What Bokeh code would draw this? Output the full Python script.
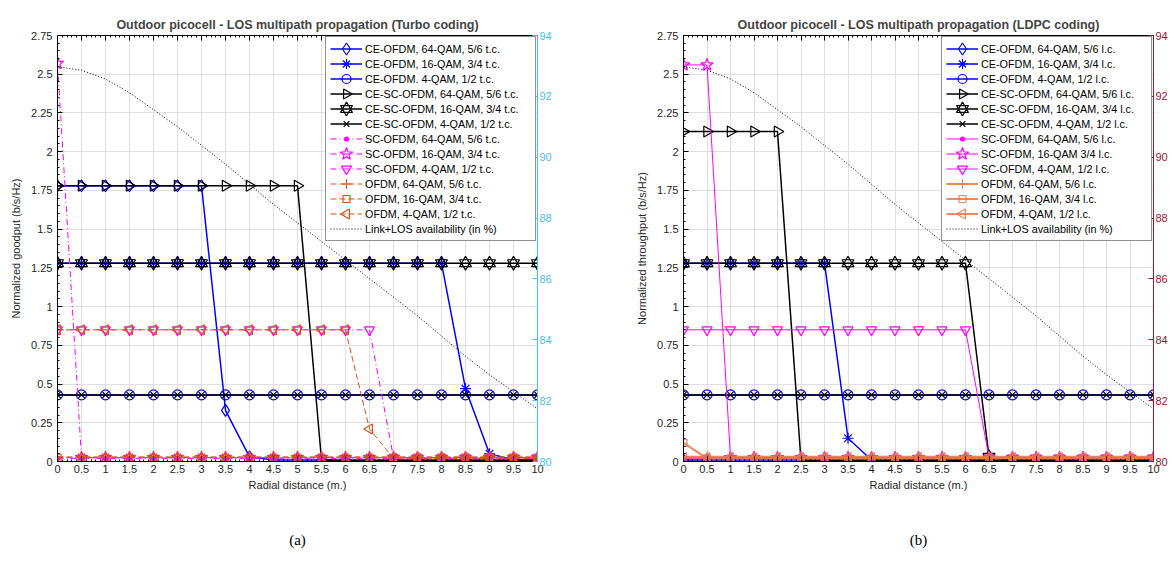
import math
from bokeh.plotting import figure
from bokeh.models import (Range1d, LinearAxis, FixedTicker, Legend, LegendItem,
                          NumeralTickFormatter, CustomJS)
from bokeh.layouts import row
from bokeh.embed import file_html
from bokeh.resources import INLINE

# ---------------- data ----------------
distance = [0, 0.5, 1, 1.5, 2, 2.5, 3, 3.5, 4, 4.5, 5, 5.5, 6, 6.5, 7, 7.5, 8, 8.5, 9, 9.5, 10]

x_tick_values = [0, 0.5, 1, 1.5, 2, 2.5, 3, 3.5, 4, 4.5, 5, 5.5, 6, 6.5, 7, 7.5, 8, 8.5, 9, 9.5, 10]
y_tick_values = [0, 0.25, 0.5, 0.75, 1, 1.25, 1.5, 1.75, 2, 2.25, 2.5, 2.75]
avail_tick_values = [80, 82, 84, 86, 88, 90, 92, 94]

# Link+LOS availability (%) - right axis
availability = [92.97, 92.86, 92.57, 92.12, 91.56, 91.00, 90.39, 89.77, 89.11, 88.45, 87.84,
                 87.23, 86.62, 86.01, 85.40, 84.79, 84.12, 83.46, 82.85, 82.29, 81.73]

# (a) Turbo coding - normalized goodput
turbo_ce_ofdm_64 = [1.78, 1.78, 1.78, 1.78, 1.78, 1.78, 1.78, 0.33, 0.03, 0.01, 0.01,
                    0.01, 0.01, 0.01, 0.01, 0.01, 0.01, 0.01, 0.01, 0.01, 0.01]
turbo_ce_ofdm_16 = [1.28, 1.28, 1.28, 1.28, 1.28, 1.28, 1.28, 1.28, 1.28, 1.28, 1.28,
                    1.28, 1.28, 1.28, 1.28, 1.28, 1.28, 0.47, 0.05, 0.01, 0.01]
turbo_ce_ofdm_4 = [0.43, 0.43, 0.43, 0.43, 0.43, 0.43, 0.43, 0.43, 0.43, 0.43, 0.43,
                   0.43, 0.43, 0.43, 0.43, 0.43, 0.43, 0.43, 0.43, 0.43, 0.43]
turbo_ce_sc_64 = [1.78, 1.78, 1.78, 1.78, 1.78, 1.78, 1.78, 1.78, 1.78, 1.78, 1.78,
                  0.01, 0.005, 0.005, 0.005, 0.005, 0.005, 0.005, 0.005, 0.005, 0.005]
turbo_ce_sc_16 = [1.28, 1.28, 1.28, 1.28, 1.28, 1.28, 1.28, 1.28, 1.28, 1.28, 1.28,
                  1.28, 1.28, 1.28, 1.28, 1.28, 1.28, 1.28, 1.28, 1.28, 1.28]
turbo_ce_sc_4 = [0.43, 0.43, 0.43, 0.43, 0.43, 0.43, 0.43, 0.43, 0.43, 0.43, 0.43,
                 0.43, 0.43, 0.43, 0.43, 0.43, 0.43, 0.43, 0.43, 0.43, 0.43]
turbo_sc_64 = [0.02, 0.02, 0.02, 0.02, 0.02, 0.02, 0.02, 0.02, 0.02, 0.02, 0.02,
               0.02, 0.02, 0.02, 0.02, 0.02, 0.02, 0.02, 0.02, 0.02, 0.02]
turbo_sc_16 = [2.57, 0.025, 0.025, 0.025, 0.025, 0.025, 0.025, 0.025, 0.025, 0.025, 0.025,
               0.025, 0.025, 0.025, 0.025, 0.025, 0.025, 0.025, 0.025, 0.025, 0.025]
turbo_sc_4 = [0.85, 0.85, 0.85, 0.85, 0.85, 0.85, 0.85, 0.85, 0.85, 0.85, 0.85,
              0.85, 0.85, 0.85, 0.025, 0.025, 0.025, 0.025, 0.025, 0.025, 0.025]
turbo_ofdm_64 = [0.03, 0.03, 0.03, 0.03, 0.03, 0.03, 0.03, 0.03, 0.03, 0.03, 0.03,
                 0.03, 0.03, 0.03, 0.03, 0.03, 0.03, 0.03, 0.03, 0.03, 0.03]
turbo_ofdm_16 = [0.025, 0.025, 0.025, 0.025, 0.025, 0.025, 0.025, 0.025, 0.025, 0.025, 0.025,
                 0.025, 0.025, 0.025, 0.025, 0.025, 0.025, 0.025, 0.025, 0.025, 0.025]
turbo_ofdm_4 = [0.85, 0.85, 0.85, 0.85, 0.85, 0.85, 0.85, 0.85, 0.85, 0.85, 0.85,
                0.85, 0.85, 0.21, 0.02, 0.02, 0.02, 0.02, 0.02, 0.02, 0.02]

# (b) LDPC coding - normalized throughput
ldpc_ce_ofdm_64 = [0.01, 0.01, 0.01, 0.01, 0.01, 0.01, 0.01, 0.01, 0.01, 0.01, 0.01,
                   0.01, 0.01, 0.01, 0.01, 0.01, 0.01, 0.01, 0.01, 0.01, 0.01]
ldpc_ce_ofdm_16 = [1.28, 1.28, 1.28, 1.28, 1.28, 1.28, 1.28, 0.15, 0.01, 0.01, 0.01,
                   0.01, 0.01, 0.01, 0.01, 0.01, 0.01, 0.01, 0.01, 0.01, 0.01]
ldpc_ce_ofdm_4 = [0.43, 0.43, 0.43, 0.43, 0.43, 0.43, 0.43, 0.43, 0.43, 0.43, 0.43,
                  0.43, 0.43, 0.43, 0.43, 0.43, 0.43, 0.43, 0.43, 0.43, 0.43]
ldpc_ce_sc_64 = [2.13, 2.13, 2.13, 2.13, 2.13, 0.005, 0.005, 0.005, 0.005, 0.005, 0.005,
                 0.005, 0.005, 0.005, 0.005, 0.005, 0.005, 0.005, 0.005, 0.005, 0.005]
ldpc_ce_sc_16 = [1.28, 1.28, 1.28, 1.28, 1.28, 1.28, 1.28, 1.28, 1.28, 1.28, 1.28,
                 1.28, 1.28, 0.03, 0.005, 0.005, 0.005, 0.005, 0.005, 0.005, 0.005]
ldpc_ce_sc_4 = [0.43, 0.43, 0.43, 0.43, 0.43, 0.43, 0.43, 0.43, 0.43, 0.43, 0.43,
                0.43, 0.43, 0.43, 0.43, 0.43, 0.43, 0.43, 0.43, 0.43, 0.43]
ldpc_sc_64 = [0.02, 0.02, 0.02, 0.02, 0.02, 0.02, 0.02, 0.02, 0.02, 0.02, 0.02,
              0.02, 0.02, 0.02, 0.02, 0.02, 0.02, 0.02, 0.02, 0.02, 0.02]
ldpc_sc_16 = [2.56, 2.56, 0.025, 0.025, 0.025, 0.025, 0.025, 0.025, 0.025, 0.025, 0.025,
              0.025, 0.025, 0.025, 0.025, 0.025, 0.025, 0.025, 0.025, 0.025, 0.025]
ldpc_sc_4 = [0.85, 0.85, 0.85, 0.85, 0.85, 0.85, 0.85, 0.85, 0.85, 0.85, 0.85,
             0.85, 0.85, 0.025, 0.025, 0.025, 0.025, 0.025, 0.025, 0.025, 0.025]
ldpc_ofdm_64 = [0.03, 0.03, 0.03, 0.03, 0.03, 0.03, 0.03, 0.03, 0.03, 0.03, 0.03,
                0.03, 0.03, 0.03, 0.03, 0.03, 0.03, 0.03, 0.03, 0.03, 0.03]
ldpc_ofdm_16 = [0.12, 0.02, 0.02, 0.02, 0.02, 0.02, 0.02, 0.02, 0.02, 0.02, 0.02,
                0.02, 0.02, 0.02, 0.02, 0.02, 0.02, 0.02, 0.02, 0.02, 0.02]
ldpc_ofdm_4 = [0.025, 0.025, 0.025, 0.025, 0.025, 0.025, 0.025, 0.025, 0.025, 0.025, 0.025,
               0.025, 0.025, 0.025, 0.025, 0.025, 0.025, 0.025, 0.025, 0.025, 0.025]

turbo_labels = ["CE-OFDM, 64-QAM, 5/6 t.c.", "CE-OFDM, 16-QAM, 3/4 t.c.", "CE-OFDM. 4-QAM, 1/2 t.c.",
                "CE-SC-OFDM, 64-QAM, 5/6 t.c.", "CE-SC-OFDM, 16-QAM, 3/4 t.c.", "CE-SC-OFDM, 4-QAM, 1/2 t.c.",
                "SC-OFDM, 64-QAM, 5/6 t.c.", "SC-OFDM, 16-QAM, 3/4 t.c.", "SC-OFDM, 4-QAM, 1/2 t.c.",
                "OFDM, 64-QAM, 5/6 t.c.", "OFDM, 16-QAM, 3/4 t.c.", "OFDM, 4-QAM, 1/2 t.c.",
                "Link+LOS availability (in %)"]
ldpc_labels = ["CE-OFDM, 64-QAM, 5/6 l.c.", "CE-OFDM, 16-QAM, 3/4 l.c.", "CE-OFDM, 4-QAM, 1/2 l.c.",
               "CE-SC-OFDM, 64-QAM, 5/6 l.c.", "CE-SC-OFDM, 16-QAM, 3/4 l.c.", "CE-SC-OFDM, 4-QAM, 1/2 l.c.",
               "SC-OFDM, 64-QAM, 5/6 l.c.", "SC-OFDM, 16-QAM 3/4 l.c.", "SC-OFDM, 4-QAM, 1/2 l.c.",
               "OFDM, 64-QAM, 5/6 l.c.", "OFDM, 16-QAM, 3/4 l.c.", "OFDM, 4-QAM, 1/2 l.c.",
               "Link+LOS availability (in %)"]

# ---------------- styling ----------------
FONT = "Liberation Sans"
BLUE, BLACK, MAGENTA = "#0000FF", "#000000", "#FF00FF"

# One custom marker painter (MATLAB-like shapes). In the legend Bokeh passes r = 3,
# there the radius args.lr is used instead so that legend markers are as big as the plot's.
MARKER_JS = """
export default (args, obj, {ctx, i, r, visuals}) => {
  const R = r < 3.2 ? args.lr : r
  const s = args.shape
  let closed = true
  ctx.beginPath()
  const tri = (p) => { ctx.moveTo(p[0], p[1]); ctx.lineTo(p[2], p[3]); ctx.lineTo(p[4], p[5]); ctx.closePath() }
  const h = R*Math.sqrt(3)
  const a = h/3
  if (s == "circle") {
    ctx.arc(0, 0, R, 0, 2*Math.PI, false)
  } else if (s == "dot") {
    ctx.arc(0, 0, args.lr, 0, 2*Math.PI, false)
  } else if (s == "diamond") {
    ctx.moveTo(0, -R); ctx.lineTo(R/1.5, 0); ctx.lineTo(0, R); ctx.lineTo(-R/1.5, 0); ctx.closePath()
  } else if (s == "square") {
    ctx.rect(-R, -R, 2*R, 2*R)
  } else if (s == "tri_down") {
    tri([0, h - a, R, -a, -R, -a])
  } else if (s == "tri_right") {
    tri([h - a, 0, -a, -R, -a, R])
  } else if (s == "tri_left") {
    tri([a - h, 0, a, -R, a, R])
  } else if (s == "hexagram") {
    tri([0, a - h, R, a, -R, a])
    tri([0, h - a, R, -a, -R, -a])
  } else if (s == "star") {
    for (let k = 0; k < 10; k++) {
      const rad = (k % 2 == 0) ? R : R*0.4
      const ang = -Math.PI/2 + k*Math.PI/5
      if (k == 0) ctx.moveTo(rad*Math.cos(ang), rad*Math.sin(ang))
      else ctx.lineTo(rad*Math.cos(ang), rad*Math.sin(ang))
    }
    ctx.closePath()
  } else if (s == "plus") {
    closed = false
    ctx.moveTo(0, -R); ctx.lineTo(0, R); ctx.moveTo(-R, 0); ctx.lineTo(R, 0)
  } else if (s == "x") {
    closed = false
    const d = R*0.8
    ctx.moveTo(-d, -d); ctx.lineTo(d, d); ctx.moveTo(-d, d); ctx.lineTo(d, -d)
  } else if (s == "asterisk") {
    closed = false
    const d = R*0.7
    ctx.moveTo(0, -R); ctx.lineTo(0, R); ctx.moveTo(-R, 0); ctx.lineTo(R, 0)
    ctx.moveTo(-d, -d); ctx.lineTo(d, d); ctx.moveTo(-d, d); ctx.lineTo(d, -d)
  }
  if (closed) {
    visuals.fill.apply(ctx, i)
    visuals.hatch.apply(ctx, i)
  }
  visuals.line.apply(ctx, i)
}
"""

# marker shape -> (plot size in px, legend radius in px)
MARKER_SIZES = {
    "diamond": (12, 6), "asterisk": (11, 5), "circle": (10, 4.5), "tri_right": (11, 5),
    "hexagram": (12, 6), "x": (8, 3.5), "dot": (8, 2), "star": (13, 6.5),
    "tri_down": (10, 5), "plus": (11, 5), "square": (7, 3.5), "tri_left": (10, 5),
}
MARKER_DEFS = {"@" + k: CustomJS(args={"shape": k, "lr": v[1]}, code=MARKER_JS)
               for k, v in MARKER_SIZES.items()}


def make_panel(title, ylabel, caption, series, labels, avail_color, width, border_left, border_right):
    p = figure(width=width, height=568, x_range=Range1d(0, 10), y_range=Range1d(0, 2.75),
               output_backend="svg", toolbar_location=None,
               min_border_left=border_left, min_border_right=border_right,
               min_border_top=35, min_border_bottom=107)
    p.outline_line_color = None
    p.background_fill_color = "white"
    p.border_fill_color = "white"

    p.title.text = title
    p.title.align = "center"
    p.title.text_font = FONT
    p.title.text_font_size = "12.5px"
    p.title.text_font_style = "bold"
    p.title.standoff = 8

    x_minor = [i / 10 for i in range(0, 101)]
    y_minor = [i / 20 for i in range(0, 56)]

    xa = p.xaxis[0]
    xa.ticker = FixedTicker(ticks=x_tick_values, minor_ticks=x_minor)
    xa.formatter = NumeralTickFormatter(format="0.[00]")
    ya = p.yaxis[0]
    ya.ticker = FixedTicker(ticks=y_tick_values, minor_ticks=y_minor)
    ya.formatter = NumeralTickFormatter(format="0.[00]")

    for ax in (xa, ya):
        ax.major_tick_in = 5
        ax.major_tick_out = 0
        ax.minor_tick_in = 2
        ax.minor_tick_out = 0
        ax.axis_line_color = "black"
        ax.major_tick_line_color = "black"
        ax.minor_tick_line_color = "black"
        ax.major_label_text_font = FONT
        ax.major_label_text_font_size = "11px"
        ax.major_label_text_color = "#262626"
        ax.axis_label_text_font = FONT
        ax.axis_label_text_font_size = "11px"
        ax.axis_label_text_font_style = "normal"
        ax.axis_label_text_color = "#262626"
    xa.axis_label = "Radial distance (m.)"
    xa.major_label_standoff = 3
    xa.axis_label_standoff = 3
    ya.axis_label = ylabel
    ya.major_label_standoff = 5
    ya.axis_label_standoff = 6

    # caption below the x axis label
    cap = LinearAxis(ticker=FixedTicker(ticks=[], minor_ticks=[]), axis_label=caption,
                     axis_label_standoff=38, axis_line_color=None,
                     major_tick_in=0, major_tick_out=0, minor_tick_in=0, minor_tick_out=0,
                     major_label_standoff=0,
                     axis_label_text_font="Liberation Serif", axis_label_text_font_size="15px",
                     axis_label_text_font_style="normal", axis_label_text_color="black")
    p.add_layout(cap, "below")

    # top edge of the box: ticks only
    top_minor = LinearAxis(ticker=FixedTicker(ticks=[], minor_ticks=x_minor),
                           major_tick_in=0, major_tick_out=0, minor_tick_in=2, minor_tick_out=0,
                           axis_line_color="black")
    top_major = LinearAxis(ticker=FixedTicker(ticks=[], minor_ticks=x_tick_values),
                           major_tick_in=0, major_tick_out=0, minor_tick_in=5, minor_tick_out=0,
                           axis_line_color="black")
    p.add_layout(top_minor, "above")
    p.add_layout(top_major, "above")

    # right axis: availability
    p.extra_y_ranges = {"avail": Range1d(80, 94)}
    ra = LinearAxis(y_range_name="avail", ticker=FixedTicker(ticks=avail_tick_values, minor_ticks=[]),
                    formatter=NumeralTickFormatter(format="0"),
                    major_tick_in=5, major_tick_out=0, minor_tick_in=0, minor_tick_out=0,
                    major_label_standoff=2,
                    axis_line_color=avail_color, major_tick_line_color=avail_color,
                    major_label_text_color=avail_color,
                    major_label_text_font=FONT, major_label_text_font_size="11px")
    p.add_layout(ra, "right")

    p.xgrid.ticker = FixedTicker(ticks=x_tick_values)
    p.ygrid.ticker = FixedTicker(ticks=y_tick_values)
    for g in (p.xgrid[0], p.ygrid[0]):
        g.grid_line_color = "#DFDFDF"
        g.grid_line_width = 1

    items = []
    for (vals, color, dash, lw, alpha, shape, filled), label in zip(series, labels[:-1]):
        rs = [p.line(distance, vals, line_color=color, line_width=lw, line_dash=dash, line_alpha=alpha)]
        mk = "@" + shape
        rs.append(p.scatter(distance, vals, marker=mk, size=MARKER_SIZES[shape][0],
                            defs={mk: MARKER_DEFS[mk]},
                            line_color=color, line_width=1.2, line_alpha=alpha,
                            fill_color=color if filled else None,
                            fill_alpha=alpha if filled else 0))
        items.append(LegendItem(label=label, renderers=rs))

    av = p.line(distance, availability, y_range_name="avail", line_color="black",
                line_width=1, line_dash="1 2")
    items.append(LegendItem(label=labels[-1], renderers=[av]))

    legend = Legend(items=items, location="top_right", margin=1, padding=4, spacing=0,
                    glyph_width=32, glyph_height=15, label_height=15, label_standoff=3,
                    label_width=166,
                    label_text_font=FONT, label_text_font_size="10.8px", label_text_color="black",
                    border_line_color="#262626", border_line_width=1,
                    background_fill_color="white", background_fill_alpha=1)
    p.add_layout(legend)
    return p


ORANGE_A = "#D95319"
ORANGE_B = "#E8744A"

turbo_series = [
    (turbo_ce_ofdm_64, BLUE, "solid", 1.5, 1, "diamond", False),
    (turbo_ce_ofdm_16, BLUE, "solid", 1.5, 1, "asterisk", False),
    (turbo_ce_ofdm_4, BLUE, "solid", 1.5, 1, "circle", False),
    (turbo_ce_sc_64, BLACK, "solid", 1.5, 1, "tri_right", False),
    (turbo_ce_sc_16, BLACK, "solid", 1.5, 1, "hexagram", False),
    (turbo_ce_sc_4, BLACK, "solid", 1.5, 1, "x", False),
    (turbo_sc_64, MAGENTA, "6 3 1 3", 1, 1, "dot", True),
    (turbo_sc_16, MAGENTA, "6 3 1 3", 1, 1, "star", False),
    (turbo_sc_4, MAGENTA, "6 3 1 3", 1, 1, "tri_down", False),
    (turbo_ofdm_64, ORANGE_A, "6 3", 1, 1, "plus", False),
    (turbo_ofdm_16, ORANGE_A, "6 3", 1, 1, "square", False),
    (turbo_ofdm_4, ORANGE_A, "6 3", 1, 1, "tri_left", False),
]

ldpc_series = [
    (ldpc_ce_ofdm_64, BLUE, "solid", 1.5, 1, "diamond", False),
    (ldpc_ce_ofdm_16, BLUE, "solid", 1.5, 1, "asterisk", False),
    (ldpc_ce_ofdm_4, BLUE, "solid", 1.5, 1, "circle", False),
    (ldpc_ce_sc_64, BLACK, "solid", 1.5, 1, "tri_right", False),
    (ldpc_ce_sc_16, BLACK, "solid", 1.5, 1, "hexagram", False),
    (ldpc_ce_sc_4, BLACK, "solid", 1.5, 1, "x", False),
    (ldpc_sc_64, MAGENTA, "solid", 1, 1, "dot", True),
    (ldpc_sc_16, MAGENTA, "solid", 1, 1, "star", False),
    (ldpc_sc_4, MAGENTA, "solid", 1, 1, "tri_down", False),
    (ldpc_ofdm_64, ORANGE_B, "solid", 2, 0.85, "plus", False),
    (ldpc_ofdm_16, ORANGE_B, "solid", 2, 0.85, "square", False),
    (ldpc_ofdm_4, ORANGE_B, "solid", 2, 0.85, "tri_left", False),
]

pa = make_panel("Outdoor picocell - LOS multipath propagation (Turbo coding)",
                "Normalized goodput (b/s/Hz)", "(a)", turbo_series, turbo_labels,
                "#4DBEEE", 570, 57, 33)
pb = make_panel("Outdoor picocell - LOS multipath propagation (LDPC coding)",
                "Normalized throughput (b/s/Hz)", "(b)", ldpc_series, ldpc_labels,
                "#A2142F", 600, 113, 0)

layout = row(pa, pb)
open("out.html", "w").write(file_html(layout, INLINE))
